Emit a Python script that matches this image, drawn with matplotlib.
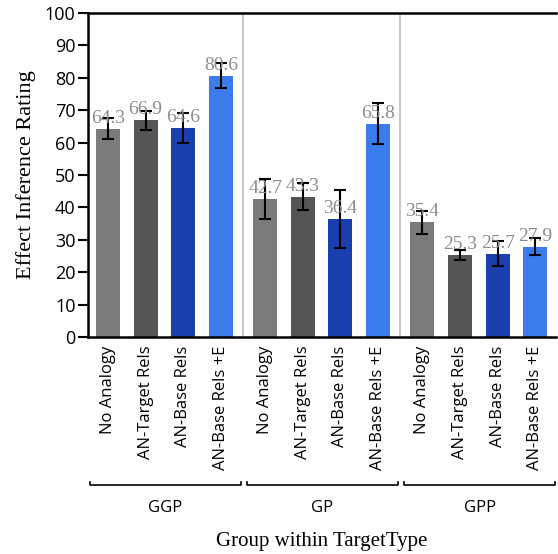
import numpy as np
import matplotlib
matplotlib.use("Agg")
import matplotlib.pyplot as plt
import matplotlib.transforms as mtransforms

plt.rcParams['font.family'] = ['Open Sans', 'DejaVu Sans']

groups = ['GGP', 'GP', 'GPP']
conditions = ['No Analogy', 'AN-Target Rels', 'AN-Base Rels', 'AN-Base Rels +E']
colors = ['#7a7a7a', '#555555', '#1a40b0', '#3a7cec']

ggp_means = [64.3, 66.9, 64.6, 80.6]
gp_means = [42.7, 43.3, 36.4, 65.8]
gpp_means = [35.4, 25.3, 25.7, 27.9]

ggp_err = [3.3, 3.0, 4.6, 3.9]
gp_err = [6.2, 4.2, 9.0, 6.3]
gpp_err = [3.6, 1.5, 3.8, 2.7]

all_means = [ggp_means, gp_means, gpp_means]
all_err = [ggp_err, gp_err, gpp_err]

group_step = 4.18
bar_w = 0.64

fig = plt.figure(figsize=(5.58, 5.54), dpi=100)
ax = fig.add_axes([88 / 558, 1 - 337 / 554, 468 / 558, 324 / 554])

tick_pos = []
tick_lab = []
for g, (means, errs) in enumerate(zip(all_means, all_err)):
    x = g * group_step + np.arange(len(conditions))
    ax.bar(x, means, width=bar_w, color=colors, zorder=2)
    ax.errorbar(x, means, yerr=errs, fmt='none', ecolor='black',
                elinewidth=1.5, capsize=4.5, capthick=1.5, zorder=3)
    for xi, m in zip(x, means):
        ax.text(xi, m + 0.6, f'{m:.1f}', ha='center', va='bottom',
                color='#8c8c8c', fontsize=14, family='Liberation Serif', zorder=4)
    tick_pos.extend(x)
    tick_lab.extend(conditions)

# light separators between groups
for g in range(1, len(groups)):
    ax.axvline(g * group_step - 0.5 - (group_step - 4) / 2, color='#c8c8c8',
               lw=1.5, zorder=1)

ax.set_xlim(-0.53, 2 * group_step + 3 + 0.55)
ax.set_ylim(0, 100)
ax.set_yticks(np.arange(0, 101, 10))
ax.tick_params(axis='y', labelsize=13, length=7, width=1.5, pad=2)
ax.set_xticks(tick_pos)
ax.set_xticklabels(tick_lab, rotation=90, fontsize=12)
ax.tick_params(axis='x', length=0, pad=6)

for side in ['left', 'bottom', 'top']:
    ax.spines[side].set_linewidth(1.8)
ax.spines['right'].set_visible(False)

# group brackets under the tick labels
trans = mtransforms.blended_transform_factory(ax.transData, ax.transAxes)
yb = -0.457
for g, name in enumerate(groups):
    lo = g * group_step - 0.49
    hi = g * group_step + 3 + 0.53
    ax.plot([lo, lo, hi, hi], [yb + 0.01, yb, yb, yb + 0.01], color='black',
            lw=1.2, transform=trans, clip_on=False)
    ax.text((lo + hi) / 2, yb - 0.045, name, transform=trans, ha='center',
            va='top', fontsize=12)

ax.text(0.5, -0.632, 'Group within TargetType', transform=ax.transAxes,
        ha='center', va='center', fontsize=15, family='Liberation Serif')
ax.set_ylabel('Effect Inference Rating', fontsize=16, family='Liberation Serif',
              labelpad=6)

fig.savefig('out.png', dpi=100)
